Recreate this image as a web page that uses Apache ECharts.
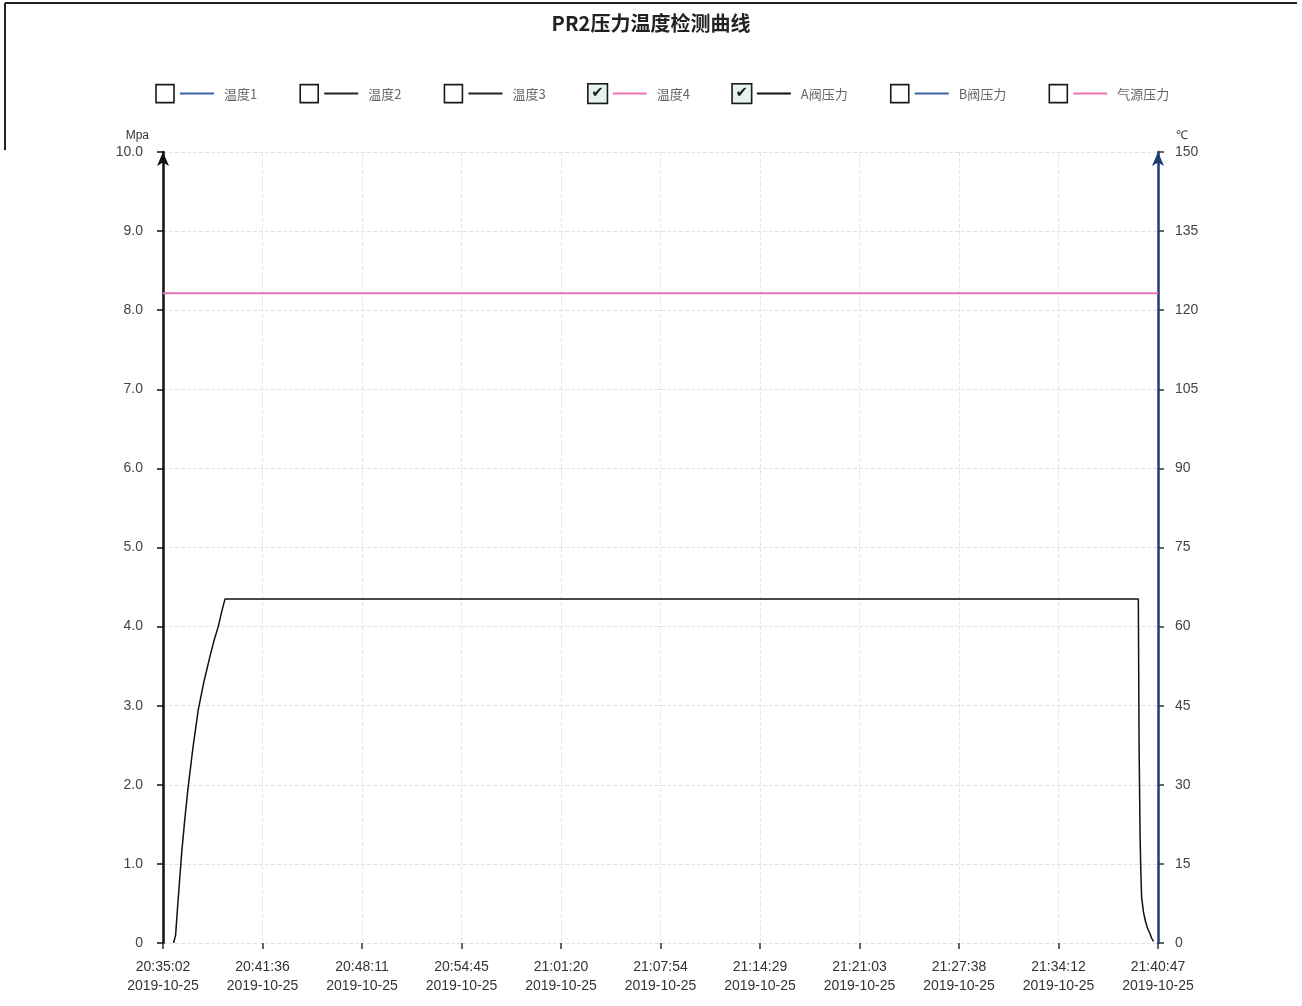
<!DOCTYPE html>
<html><head><meta charset="utf-8">
<script src="https://cdn.jsdelivr.net/npm/echarts@6/dist/echarts.min.js"></script>
<style>html,body{margin:0;padding:0;background:#fff}#c{width:1302px;height:1006px}</style>
</head><body><div id="c"></div>
<script>
// x axis: seconds elapsed since 20:35:02 on 2019-10-25
const tickTimes = ['20:35:02','20:41:36','20:48:11','20:54:45','21:01:20','21:07:54','21:14:29','21:21:03','21:27:38','21:34:12','21:40:47'];
const tickDate = '2019-10-25';
const xMax = 3945;
const xStep = 394.5;

const seriesNames = ['温度1','温度2','温度3','温度4','A阀压力','B阀压力','气源压力'];
const seriesColors = ['#3d5fa8','#222222','#222222','#e873b8','#111111','#3d5fa8','#e873b8'];
const checked = [false,false,false,true,true,false,false];

// 温度4 (℃, right axis)
const temp4 = [[0,123.2],[3945,123.2]];
// A阀压力 (Mpa, left axis)
const pressA = [[42,0],[50,0.1],[58,0.46],[66,0.8],[74,1.14],[86,1.55],[100,1.98],[120,2.5],[140,2.95],[162,3.3],[186,3.62],[202,3.82],[219,4.0],[232,4.18],[246,4.35],[3867,4.35],[3870,2.5],[3874,1.34],[3877,0.9],[3880,0.58],[3887,0.4],[3894,0.29],[3903,0.19],[3913,0.12],[3920,0.06],[3927,0.02]];

const chart = echarts.init(document.getElementById('c'));
const rich = {
  box: {width:18,height:18,borderColor:'#1a1a1a',borderWidth:1.6,align:'center',verticalAlign:'middle',fontSize:15,lineHeight:18,color:'#1a1a1a',fontFamily:'DejaVu Sans'},
  boxc: {width:18,height:18,borderColor:'#1a1a1a',borderWidth:1.6,align:'center',verticalAlign:'middle',fontSize:15,lineHeight:18,color:'#1a1a1a',backgroundColor:'#e6f2ec',fontFamily:'DejaVu Sans'},
  sp1: {width:6,height:2,verticalAlign:'middle'},
  sp2: {width:10,height:2,verticalAlign:'middle'},
  txt: {fontSize:13,color:'#666',verticalAlign:'middle',fontFamily:'Noto Sans CJK SC'}
};
seriesColors.forEach((c,i)=>{ rich['ln'+i] = {width:34,height:2,backgroundColor:c,verticalAlign:'middle'}; });

const dataMap = {'温度4': temp4, 'A阀压力': pressA};
const series = seriesNames.map((n,i)=>({
  name:n, type:'line', showSymbol:false, symbol:'none',
  yAxisIndex: n.indexOf('温度')===0 ? 1 : 0,
  data: dataMap[n] || [],
  lineStyle:{color:seriesColors[i], width: n==='温度4'?2:1.5},
  itemStyle:{color:seriesColors[i]},
  animation:false
}));

chart.setOption({
  animation:false,
  backgroundColor:'#fff',
  title:{text:'PR2压力温度检测曲线',left:'center',top:8,textStyle:{fontSize:20,fontWeight:'bold',color:'#222',fontFamily:'Noto Sans CJK SC'}},
  legend:{
    left:145, top:78, itemGap:37, itemWidth:1, itemHeight:1, icon:'rect',
    itemStyle:{opacity:0},
    data: seriesNames,
    formatter: function(name){
      const i = seriesNames.indexOf(name);
      const b = checked[i] ? '{boxc|✔}' : '{box| }';
      return b + '{sp1| }{ln'+i+'| }{sp2| }{txt|'+name+'}';
    },
    textStyle:{rich:rich}
  },
  grid:{left:163,right:144,top:152,bottom:63,containLabel:false},
  xAxis:{
    type:'value', min:0, max:xMax, interval:xStep,
    axisLine:{show:false},
    axisTick:{show:true,length:6,inside:false,lineStyle:{color:'#333',width:1.5}},
    splitLine:{show:true,lineStyle:{color:'#e6e6e6',type:'dashed'}},
    axisLabel:{fontSize:14,color:'#333',lineHeight:19,margin:15,fontFamily:'Liberation Sans',
      formatter:function(v){const k=Math.round(v/xStep);return (tickTimes[k]||'')+'\n'+tickDate;}}
  },
  yAxis:[{
    type:'value', min:0, max:10, interval:1, name:'Mpa', nameGap:10,
    nameTextStyle:{fontSize:12,color:'#333',align:'right',padding:[0,14,0,0]},
    axisLine:{show:true,symbol:['none','arrow'],symbolSize:[9,14],lineStyle:{color:'#111',width:2.5}},
    axisTick:{show:true,length:6,lineStyle:{color:'#111',width:1.5}},
    axisLabel:{fontSize:14,color:'#444',margin:20,fontFamily:'Liberation Sans',formatter:function(v){return v===0?'0':v.toFixed(1);}},
    splitLine:{show:true,lineStyle:{color:'#e2e2e2',type:'dashed'}}
  },{
    type:'value', min:0, max:150, interval:15, name:'℃', nameGap:10,
    nameTextStyle:{fontSize:12,color:'#333',align:'left',padding:[0,0,0,18]},
    axisLine:{show:true,symbol:['none','arrow'],symbolSize:[9,14],lineStyle:{color:'#1f3b70',width:2.5}},
    axisTick:{show:true,length:6,lineStyle:{color:'#333',width:1.5}},
    axisLabel:{fontSize:14,color:'#444',margin:17,fontFamily:'Liberation Sans'},
    splitLine:{show:false}
  }],
  graphic:[
    {type:'line',shape:{x1:5,y1:3,x2:1297,y2:3},style:{stroke:'#222',lineWidth:2},silent:true},
    {type:'line',shape:{x1:5,y1:3,x2:5,y2:150},style:{stroke:'#222',lineWidth:2},silent:true}
  ],
  series: series
});
</script></body></html>
